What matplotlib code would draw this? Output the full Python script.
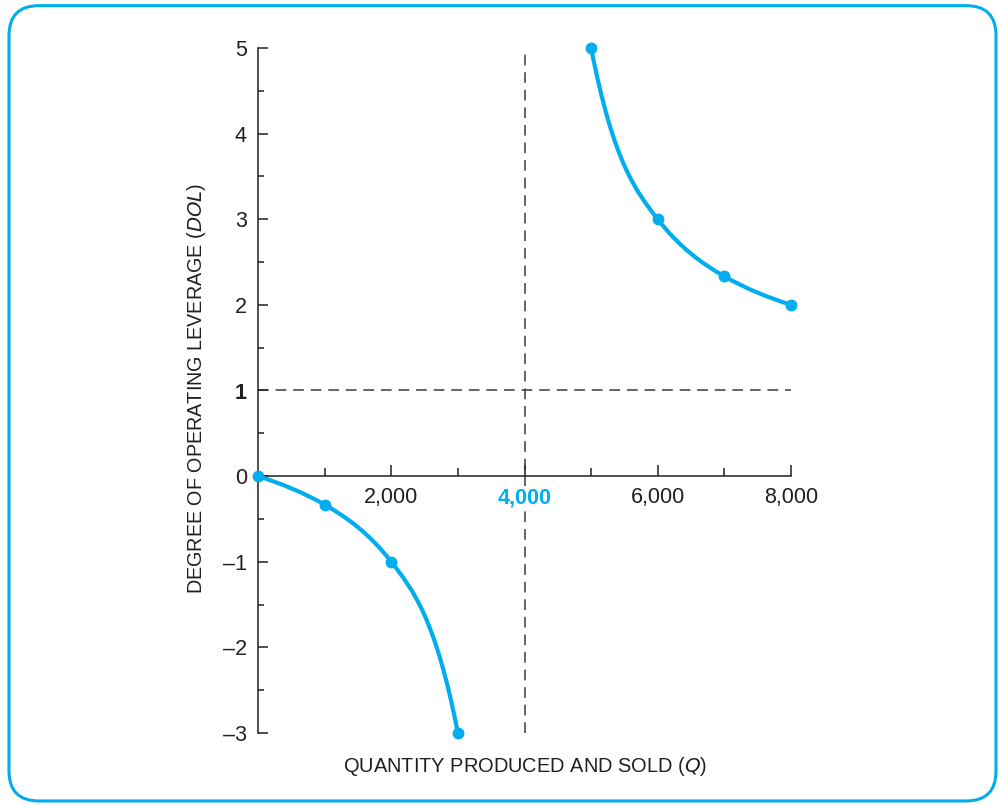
import matplotlib
matplotlib.use("Agg")
import matplotlib.pyplot as plt
import numpy as np
from matplotlib.path import Path
from matplotlib.patches import PathPatch, FancyBboxPatch

# data
q_left = [0, 1000, 2000, 3000]
dol_left = [0, -0.333, -1, -3]
q_right = [5000, 6000, 7000, 8000]
dol_right = [5, 3, 2.333, 2]
breakeven_q = 4000
dol_ref = 1

y_ticks = [-3, -2, -1, 0, 1, 2, 3, 4, 5]
y_labels = ["–3", "–2", "–1", "0", "1", "2", "3", "4", "5"]
x_ticks = [2000, 4000, 6000, 8000]
x_labels = ["2,000", "4,000", "6,000", "8,000"]

BLUE = "#00AEEF"
TXT = "#231F20"

plt.rcParams["font.family"] = ["Liberation Sans", "DejaVu Sans"]


def smooth_path(xs, ys):
    # hermite curve through the points (harmonic-mean slopes), as bezier segments
    x = np.array(xs, float)
    y = np.array(ys, float)
    h = np.diff(x)
    d = np.diff(y) / h
    m = np.zeros_like(y)
    for i in range(1, len(x) - 1):
        m[i] = 2 / (1 / d[i - 1] + 1 / d[i])
    m[0] = d[0] ** 2 / m[1]
    m[-1] = d[-1] ** 2 / m[-2]
    verts = [(x[0], y[0])]
    codes = [Path.MOVETO]
    for i in range(len(x) - 1):
        verts += [(x[i] + h[i] / 3, y[i] + m[i] * h[i] / 3),
                  (x[i + 1] - h[i] / 3, y[i + 1] - m[i + 1] * h[i] / 3),
                  (x[i + 1], y[i + 1])]
        codes += [Path.CURVE4] * 3
    return Path(verts, codes)


fig = plt.figure(figsize=(9.99, 8.05), dpi=100)

# rounded blue frame
frame = FancyBboxPatch((0.009, 0.005), 0.988, 0.988,
                       boxstyle="round,pad=0,rounding_size=0.03",
                       transform=fig.transFigure, fill=False,
                       edgecolor=BLUE, linewidth=2.2,
                       mutation_aspect=999 / 805)
fig.patches.append(frame)

ax = fig.add_axes([258 / 999, 1 - 733 / 805, 533 / 999, 685 / 805])
ax.set_xlim(0, 8000)
ax.set_ylim(-3, 5)

for s in ["top", "right"]:
    ax.spines[s].set_visible(False)
ax.spines["left"].set_position(("data", 0))
ax.spines["bottom"].set_position(("data", 0))
ax.spines["bottom"].set_bounds(0, 8000)
for s in ["left", "bottom"]:
    ax.spines[s].set_color(TXT)
    ax.spines[s].set_linewidth(1.1)

# dashed guides
ax.plot([breakeven_q, breakeven_q], [-3, 5], ls=(0, (7, 4.5)), color="#3a3a3a", lw=1.1, zorder=1)
ax.plot([0, 8000], [dol_ref, dol_ref], ls=(0, (7, 4.5)), color="#3a3a3a", lw=1.1, zorder=1)

# curves
for qs, ds in [(q_left, dol_left), (q_right, dol_right)]:
    ax.add_patch(PathPatch(smooth_path(qs, ds), fill=False, edgecolor=BLUE,
                           lw=3.0, capstyle="round", zorder=4, clip_on=False))
    ax.plot(qs, ds, "o", color=BLUE, ms=7.5, zorder=5, clip_on=False)

# ticks
ax.set_yticks(y_ticks)
ax.set_yticklabels(y_labels)
ax.set_yticks(np.arange(-2.5, 5, 1.0), minor=True)
ax.set_xticks(x_ticks)
ax.set_xticklabels([lab if x != breakeven_q else "" for x, lab in zip(x_ticks, x_labels)])
ax.set_xticks([1000, 3000, 5000, 7000], minor=True)
ax.tick_params(axis="y", which="major", direction="in", length=7.5, width=1.1,
               pad=8, labelsize=15.5, colors=TXT)
ax.tick_params(axis="y", which="minor", direction="in", length=4.5, width=1.1, colors=TXT)
ax.tick_params(axis="x", which="major", direction="in", length=8, width=1.1,
               pad=8, labelsize=15.5, colors=TXT)
ax.tick_params(axis="x", which="minor", direction="in", length=6, width=1.1, colors=TXT)

# highlighted break-even label, masks the dashed line behind it
ax.annotate(x_labels[x_ticks.index(breakeven_q)], xy=(breakeven_q, 0),
            xytext=(0, -8), textcoords="offset points", ha="center", va="top",
            fontsize=15.5, fontweight="bold", color=BLUE, zorder=6,
            bbox=dict(facecolor="white", edgecolor="none", pad=1))

for lab in ax.get_yticklabels():
    if lab.get_text() == "1":
        lab.set_fontweight("bold")

fig.text(525 / 999, 1 - 766 / 805, "QUANTITY PRODUCED AND SOLD ($\\mathit{Q}$)",
         ha="center", va="center", fontsize=14.4, color=TXT)
fig.text(196 / 999, 1 - 388 / 805, "DEGREE OF OPERATING LEVERAGE ($\\mathit{DOL}$)",
         ha="center", va="center", rotation=90, fontsize=14.2, color=TXT)

fig.savefig("out.png", dpi=100)
